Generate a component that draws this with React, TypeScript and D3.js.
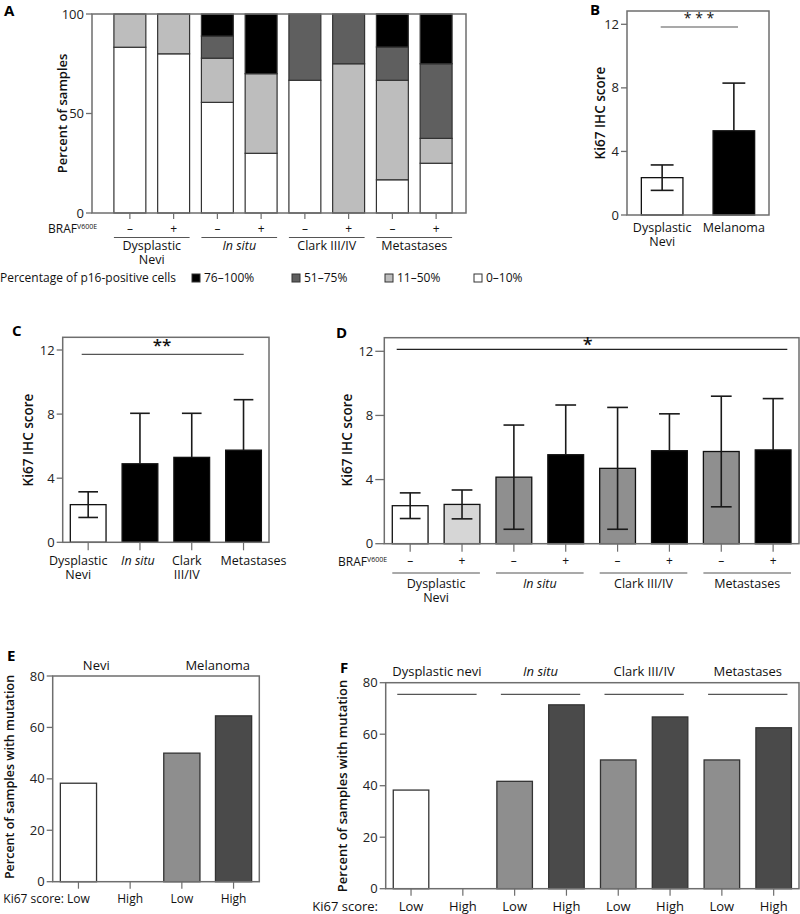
import React from "react";
import * as d3 from "d3";

const FONT = "'Open Sans', sans-serif";
const AX = "#6e6e6e";
const FS = 12;

// ---------- Panel A data ----------
const aBraf = ["–", "+", "–", "+", "–", "+", "–", "+"];
const aGroups = [["Dysplastic", "Nevi"], ["In situ"], ["Clark III/IV"], ["Metastases"]];
const aGroupItalic = [false, true, false, false];
const aKeys = ["0–10%", "11–50%", "51–75%", "76–100%"];
const a0to10 = [83.3, 80, 55.6, 30, 66.7, 0, 16.7, 25];
const a11to50 = [16.7, 20, 22.2, 40, 0, 75, 50, 12.5];
const a51to75 = [0, 0, 11.1, 0, 33.3, 25, 16.7, 37.5];
const a76to100 = [0, 0, 11.1, 30, 0, 0, 16.7, 25];
const aColors = ["#ffffff", "#bdbdbd", "#5f5f5f", "#000000"];
const aTicks = [0, 50, 100];

// ---------- Panel B data ----------
const bCats = [["Dysplastic", "Nevi"], ["Melanoma"]];
const bMean = [2.35, 5.3];
const bSD = [0.8, 3.0];
const bColors = ["#ffffff", "#000000"];
const kiTicks = [0, 4, 8, 12];

// ---------- Panel C data ----------
const cCats = [["Dysplastic", "Nevi"], ["In situ"], ["Clark", "III/IV"], ["Metastases"]];
const cItalic = [false, true, false, false];
const cMean = [2.35, 4.9, 5.3, 5.75];
const cSD = [0.8, 3.15, 2.75, 3.15];
const cColors = ["#ffffff", "#000000", "#000000", "#000000"];

// ---------- Panel D data ----------
const dBraf = ["–", "+", "–", "+", "–", "+", "–", "+"];
const dGroups = [["Dysplastic", "Nevi"], ["In situ"], ["Clark III/IV"], ["Metastases"]];
const dGroupItalic = [false, true, false, false];
const dMean = [2.37, 2.45, 4.15, 5.55, 4.7, 5.8, 5.75, 5.85];
const dSD = [0.8, 0.9, 3.25, 3.1, 3.8, 2.3, 3.45, 3.2];
const dColors = ["#ffffff", "#d6d6d6", "#8f8f8f", "#000000", "#8f8f8f", "#000000", "#8f8f8f", "#000000"];

// ---------- Panel E data ----------
const eLabels = ["Low", "High", "Low", "High"];
const eGroups = ["Nevi", "Melanoma"];
const eValues = [38.3, 0, 50, 64.5];
const eColors = ["#ffffff", "#ffffff", "#8e8e8e", "#4a4a4a"];
const mutTicks = [0, 20, 40, 60, 80];

// ---------- Panel F data ----------
const fLabels = ["Low", "High", "Low", "High", "Low", "High", "Low", "High"];
const fGroups = ["Dysplastic nevi", "In situ", "Clark III/IV", "Metastases"];
const fGroupItalic = [false, true, false, false];
const fValues = [38.3, 0, 41.7, 71.4, 50, 66.7, 50, 62.5];
const fColors = ["#ffffff", "#ffffff", "#8e8e8e", "#4a4a4a", "#8e8e8e", "#4a4a4a", "#8e8e8e", "#4a4a4a"];

// layout-only label nudges for panel C (labels are spread slightly in the reference)
const cLabelDx = [-10, -2, -5, 10];

type Lin = d3.ScaleLinear<number, number>;

function YAxis({ y, ticks, x, len = 6 }: { y: Lin; ticks: number[]; x: number; len?: number }) {
  return (
    <g>
      {ticks.map((t) => (
        <g key={t}>
          <line x1={x - len} x2={x} y1={y(t)} y2={y(t)} stroke={AX} strokeWidth={1.3} />
          <text x={x - len - 2} y={y(t)} dy="0.35em" textAnchor="end" fontSize={FS + 1} fill="#222">
            {t}
          </text>
        </g>
      ))}
    </g>
  );
}

function YLabel({ x, y, text, size = 14 }: { x: number; y: number; text: string; size?: number }) {
  return (
    <text transform={`translate(${x},${y}) rotate(-90)`} textAnchor="middle" dy="0.35em" fontSize={size} fontWeight={600} fill="#111">
      {text}
    </text>
  );
}

function Letter({ x, y, t }: { x: number; y: number; t: string }) {
  return (
    <text x={x} y={y} fontSize={15} fontWeight={700} fill="#000">
      {t}
    </text>
  );
}

function MultiLine({ x, y, lines, size = 12.5, italic = false, gap = 14 }: { x: number; y: number; lines: string[]; size?: number; italic?: boolean; gap?: number }) {
  return (
    <text x={x} y={y} dy="0.35em" textAnchor="middle" fontSize={size} fontStyle={italic ? "italic" : "normal"}>
      {lines.map((t, li) => (
        <tspan key={li} x={x} dy={li === 0 ? 0 : gap}>
          {t}
        </tspan>
      ))}
    </text>
  );
}

function ErrBar({ cx, y, mean, sd, cap, lower }: { cx: number; y: Lin; mean: number; sd: number; cap: number; lower: boolean }) {
  const lo = y(Math.max(0, mean - sd));
  const hi = y(mean + sd);
  const mid = y(mean);
  return (
    <g stroke="#1a1a1a" strokeWidth={1.6}>
      <line x1={cx} x2={cx} y1={lower ? lo : mid} y2={hi} />
      <line x1={cx - cap / 2} x2={cx + cap / 2} y1={hi} y2={hi} />
      {lower ? <line x1={cx - cap / 2} x2={cx + cap / 2} y1={lo} y2={lo} /> : null}
    </g>
  );
}

function PanelA() {
  const left = 92, right = 466, top = 14, bottom = 213;
  const x = d3.scaleBand<number>().domain(d3.range(aBraf.length)).range([108, 458]).paddingInner(0.27).paddingOuter(0.135);
  const y = d3.scaleLinear().domain([0, 100]).range([bottom, top]);
  const rows = aBraf.map((_, i) => ({ "0–10%": a0to10[i], "11–50%": a11to50[i], "51–75%": a51to75[i], "76–100%": a76to100[i] }));
  const series = d3.stack<any>().keys(aKeys)(rows as any);
  const bw = x.bandwidth();
  const legendOrder = [3, 2, 1, 0];
  const legendX = [192, 292, 385, 474];
  return (
    <g>
      <Letter x={4} y={16} t="A" />
      {series.map((s, k) => (
        <g key={k}>
          {s.map((d, i) =>
            d[1] - d[0] > 0 ? (
              <rect key={i} x={x(i)} y={y(d[1])} width={bw} height={y(d[0]) - y(d[1])} fill={aColors[k]} stroke="#333" strokeWidth={1.2} />
            ) : null
          )}
        </g>
      ))}
      <rect x={left} y={top} width={right - left} height={bottom - top} fill="none" stroke={AX} strokeWidth={1.5} />
      <YAxis y={y} ticks={aTicks} x={left} len={6} />
      <YLabel x={62} y={(top + bottom) / 2} text="Percent of samples" size={13} />
      {aBraf.map((s, i) => (
        <g key={i}>
          <line x1={x(i)! + bw / 2} x2={x(i)! + bw / 2} y1={bottom} y2={bottom + 6} stroke={AX} strokeWidth={1.2} />
          <text x={x(i)! + bw / 2} y={229} dy="0.35em" textAnchor="middle" fontSize={FS}>
            {s}
          </text>
        </g>
      ))}
      <text x={48} y={229} dy="0.35em" fontSize={FS}>
        BRAF<tspan fontSize={7} dy={-4}>V600E</tspan>
      </text>
      {aGroups.map((g, gi) => {
        const x0 = x(gi * 2)!;
        const x1 = x(gi * 2 + 1)! + bw;
        const cx = (x0 + x1) / 2;
        return (
          <g key={gi}>
            <line x1={x0} x2={x1} y1={237.5} y2={237.5} stroke="#555" strokeWidth={1.2} />
            <MultiLine x={cx} y={250} lines={g} italic={aGroupItalic[gi]} />
          </g>
        );
      })}
      <text x={0} y={278} dy="0.35em" fontSize={FS}>
        Percentage of p16-positive cells
      </text>
      {legendOrder.map((k, j) => (
        <g key={k}>
          <rect x={legendX[j]} y={274} width={8} height={8} fill={aColors[k]} stroke="#333" strokeWidth={1} />
          <text x={legendX[j] + 12} y={278} dy="0.35em" fontSize={FS}>
            {aKeys[k]}
          </text>
        </g>
      ))}
    </g>
  );
}

function PanelB() {
  const left = 627, right = 769, top = 11, bottom = 215;
  const x = d3.scaleBand<number>().domain(d3.range(bMean.length)).range([left, right]).paddingInner(0.42).paddingOuter(0.2);
  const y = d3.scaleLinear().domain([0, 12]).range([bottom, 24.3]);
  const bw = x.bandwidth();
  return (
    <g>
      <Letter x={590} y={15} t="B" />
      {bMean.map((m, i) => (
        <rect key={i} x={x(i)} y={y(m)} width={bw} height={bottom - y(m)} fill={bColors[i]} stroke="#111" strokeWidth={1.3} />
      ))}
      {bMean.map((m, i) => (
        <ErrBar key={i} cx={x(i)! + bw / 2} y={y} mean={m} sd={bSD[i]} cap={bw * 0.55} lower={bColors[i] !== "#000000"} />
      ))}
      <rect x={left} y={top} width={right - left} height={bottom - top} fill="none" stroke={AX} strokeWidth={1.5} />
      <YAxis y={y} ticks={kiTicks} x={left} len={6} />
      <YLabel x={600} y={113} text="Ki67 IHC score" size={13.5} />
      {bCats.map((c, i) => (
        <MultiLine key={i} x={x(i)! + bw / 2} y={231.5} lines={c} />
      ))}
      <line x1={660.7} x2={738} y1={27} y2={27} stroke="#555" strokeWidth={1.2} />
      <text x={699} y={23} textAnchor="middle" fontSize={14}>
        * * *
      </text>
    </g>
  );
}

function PanelC() {
  const left = 62.7, right = 269, top = 337.3, bottom = 542.3;
  const x = d3.scaleBand<number>().domain(d3.range(cMean.length)).range([left, right]).paddingInner(0.31).paddingOuter(0.147);
  const y = d3.scaleLinear().domain([0, 12]).range([bottom, 350]);
  const bw = x.bandwidth();
  return (
    <g>
      <Letter x={12} y={336} t="C" />
      {cMean.map((m, i) => (
        <rect key={i} x={x(i)} y={y(m)} width={bw} height={bottom - y(m)} fill={cColors[i]} stroke="#111" strokeWidth={1.3} />
      ))}
      {cMean.map((m, i) => (
        <ErrBar key={i} cx={x(i)! + bw / 2} y={y} mean={m} sd={cSD[i]} cap={bw * 0.55} lower={cColors[i] !== "#000000"} />
      ))}
      <rect x={left} y={top} width={right - left} height={bottom - top} fill="none" stroke={AX} strokeWidth={1.5} />
      <YAxis y={y} ticks={kiTicks} x={left} len={6} />
      <YLabel x={28} y={440} text="Ki67 IHC score" size={13.5} />
      {cCats.map((c, i) => (
        <g key={i}>
          <line x1={x(i)! + bw / 2} x2={x(i)! + bw / 2} y1={bottom} y2={bottom + 8} stroke={AX} strokeWidth={1.2} />
          <MultiLine x={x(i)! + bw / 2 + cLabelDx[i]} y={565} lines={c} italic={cItalic[i]} />
        </g>
      ))}
      <line x1={81.7} x2={243.7} y1={354.3} y2={354.3} stroke="#555" strokeWidth={1.2} />
      <text x={162} y={351} textAnchor="middle" fontSize={17} fontWeight={600}>
        **
      </text>
    </g>
  );
}

function PanelD() {
  const left = 384.3, right = 799, top = 337.7, bottom = 543.7;
  const x = d3.scaleBand<number>().domain(d3.range(dMean.length)).range([left, right]).paddingInner(0.31).paddingOuter(0.154);
  const y = d3.scaleLinear().domain([0, 12]).range([bottom, 351.3]);
  const bw = x.bandwidth();
  return (
    <g>
      <Letter x={336} y={338} t="D" />
      {dMean.map((m, i) => (
        <rect key={i} x={x(i)} y={y(m)} width={bw} height={bottom - y(m)} fill={dColors[i]} stroke="#111" strokeWidth={1.3} />
      ))}
      {dMean.map((m, i) => (
        <ErrBar key={i} cx={x(i)! + bw / 2} y={y} mean={m} sd={dSD[i]} cap={bw * 0.58} lower={dColors[i] !== "#000000"} />
      ))}
      <rect x={left} y={top} width={right - left} height={bottom - top} fill="none" stroke={AX} strokeWidth={1.5} />
      <YAxis y={y} ticks={kiTicks} x={left} len={9} />
      <YLabel x={347} y={440} text="Ki67 IHC score" size={13.5} />
      {dBraf.map((s, i) => (
        <g key={i}>
          <line x1={x(i)! + bw / 2} x2={x(i)! + bw / 2} y1={bottom} y2={bottom + 8} stroke={AX} strokeWidth={1.2} />
          <text x={x(i)! + bw / 2} y={561} dy="0.35em" textAnchor="middle" fontSize={FS}>
            {s}
          </text>
        </g>
      ))}
      <text x={338} y={562} dy="0.35em" fontSize={FS}>
        BRAF<tspan fontSize={7} dy={-4}>V600E</tspan>
      </text>
      {dGroups.map((g, gi) => {
        const x0 = x(gi * 2)!;
        const x1 = x(gi * 2 + 1)! + bw;
        const cx = (x0 + x1) / 2;
        return (
          <g key={gi}>
            <line x1={x0} x2={x1} y1={573} y2={573} stroke="#555" strokeWidth={1.2} />
            <MultiLine x={cx} y={588} lines={g} italic={dGroupItalic[gi]} />
          </g>
        );
      })}
      <line x1={396.7} x2={787.3} y1={349.3} y2={349.3} stroke="#222" strokeWidth={1.3} />
      <text x={587.7} y={351} textAnchor="middle" fontSize={18} fontWeight={600}>
        *
      </text>
    </g>
  );
}

function PanelE() {
  const left = 52.7, right = 259.3, top = 676, bottom = 881.7;
  const x = d3.scaleBand<number>().domain(d3.range(eValues.length)).range([left, right]).paddingInner(0.3).paddingOuter(0.148);
  const y = d3.scaleLinear().domain([0, 80]).range([bottom, top]);
  const bw = x.bandwidth();
  return (
    <g>
      <Letter x={7} y={661} t="E" />
      {eValues.map((v, i) =>
        v > 0 ? <rect key={i} x={x(i)} y={y(v)} width={bw} height={bottom - y(v)} fill={eColors[i]} stroke="#333" strokeWidth={1.3} /> : null
      )}
      <rect x={left} y={top} width={right - left} height={bottom - top} fill="none" stroke={AX} strokeWidth={1.5} />
      <YAxis y={y} ticks={mutTicks} x={left} len={6} />
      <YLabel x={10} y={777} text="Percent of samples with mutation" size={12.5} />
      {eLabels.map((l, i) => (
        <g key={i}>
          <line x1={x(i)! + bw / 2} x2={x(i)! + bw / 2} y1={bottom} y2={bottom + 7} stroke={AX} strokeWidth={1.2} />
          <text x={x(i)! + bw / 2} y={899} dy="0.35em" textAnchor="middle" fontSize={FS}>
            {l}
          </text>
        </g>
      ))}
      <text x={64} y={899} dy="0.35em" textAnchor="end" fontSize={FS}>
        Ki67 score:
      </text>
      {eGroups.map((g, gi) => {
        const cx = (x(gi * 2)! + x(gi * 2 + 1)! + bw) / 2;
        return (
          <text key={gi} x={gi === 0 ? cx - 8 : cx + 10} y={665} dy="0.35em" textAnchor="middle" fontSize={FS + 1}>
            {g}
          </text>
        );
      })}
    </g>
  );
}

function PanelF() {
  const left = 385.7, right = 799, top = 682.7, bottom = 888.7;
  const x = d3.scaleBand<number>().domain(d3.range(fValues.length)).range([left, right]).paddingInner(0.314).paddingOuter(0.146);
  const y = d3.scaleLinear().domain([0, 80]).range([bottom, top]);
  const bw = x.bandwidth();
  return (
    <g>
      <Letter x={340} y={673} t="F" />
      {fValues.map((v, i) =>
        v > 0 ? <rect key={i} x={x(i)} y={y(v)} width={bw} height={bottom - y(v)} fill={fColors[i]} stroke="#333" strokeWidth={1.3} /> : null
      )}
      <rect x={left} y={top} width={right - left} height={bottom - top} fill="none" stroke={AX} strokeWidth={1.5} />
      <YAxis y={y} ticks={mutTicks} x={left} len={6} />
      <YLabel x={342} y={786} text="Percent of samples with mutation" size={13} />
      {fLabels.map((l, i) => (
        <g key={i}>
          <line x1={x(i)! + bw / 2} x2={x(i)! + bw / 2} y1={bottom} y2={bottom + 7} stroke={AX} strokeWidth={1.2} />
          <text x={x(i)! + bw / 2} y={906} dy="0.35em" textAnchor="middle" fontSize={FS + 1}>
            {l}
          </text>
        </g>
      ))}
      <text x={378} y={906} dy="0.35em" textAnchor="end" fontSize={FS + 1}>
        Ki67 score:
      </text>
      {fGroups.map((g, gi) => {
        const x0 = x(gi * 2)!;
        const x1 = x(gi * 2 + 1)! + bw;
        const cx = (x0 + x1) / 2;
        return (
          <g key={gi}>
            <line x1={x0 + 4} x2={x1 - 4} y1={694.3} y2={694.3} stroke="#555" strokeWidth={1.2} />
            <text x={cx} y={671} dy="0.35em" textAnchor="middle" fontSize={FS + 1} fontStyle={fGroupItalic[gi] ? "italic" : "normal"}>
              {g}
            </text>
          </g>
        );
      })}
    </g>
  );
}

export default function App() {
  return (
    <svg
      width={800}
      height={914}
      viewBox="0 0 800 914"
      style={{ position: "absolute", left: 0, top: 0, background: "#fff" }}
      fontFamily={FONT}
      fill="#111"
    >
      <rect x={0} y={0} width={800} height={914} fill="#fff" />
      <PanelA />
      <PanelB />
      <PanelC />
      <PanelD />
      <PanelE />
      <PanelF />
    </svg>
  );
}
